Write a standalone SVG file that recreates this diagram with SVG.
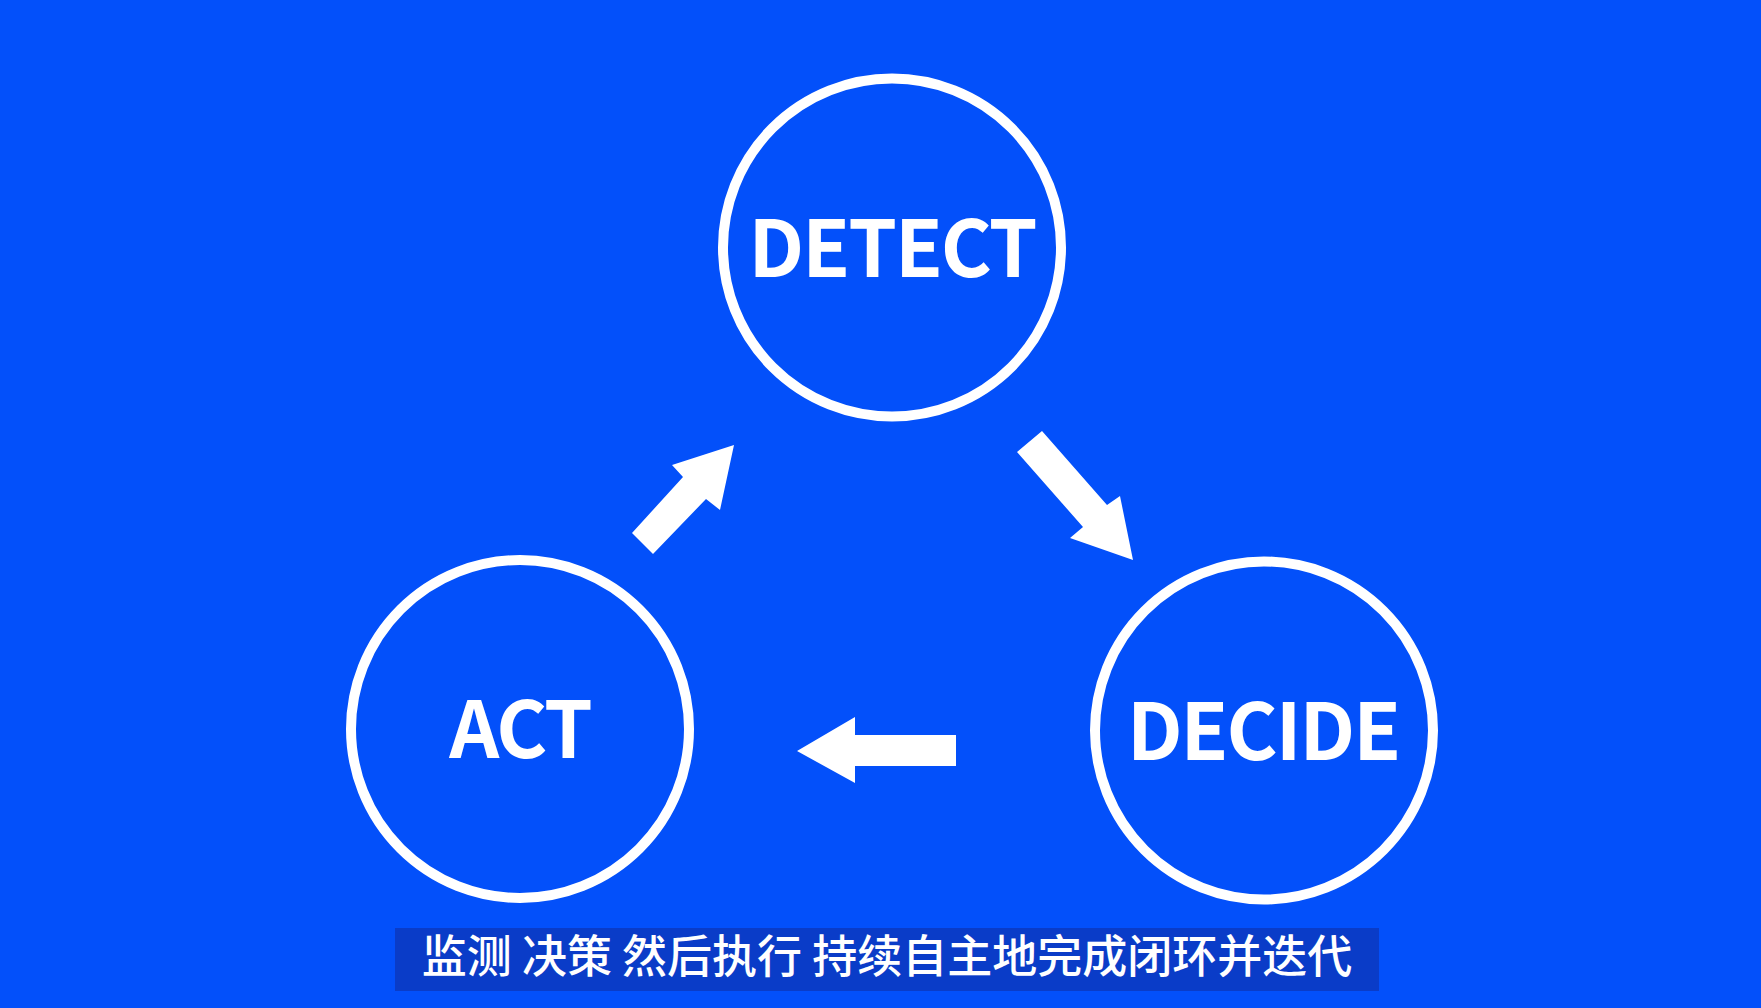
<svg xmlns="http://www.w3.org/2000/svg" width="1761" height="1008" viewBox="0 0 1761 1008">
<style>
.ring{fill:none;stroke:#fff;stroke-width:10}
.lbl{font-family:"Noto Sans CJK SC","Noto Sans",sans-serif;font-weight:700;font-size:78px;letter-spacing:-2px;fill:#fff;text-anchor:middle}
.arrow{fill:#fff}
.sub{font-family:"Noto Sans CJK SC","Noto Sans",sans-serif;font-weight:500;font-size:45px;fill:#fff;text-anchor:middle}
</style>
<rect width="1761" height="1008" fill="#0350FA"/>
<g id="detect">
<circle class="ring" cx="892" cy="247.5" r="169"/>
<text class="lbl" x="892" y="277">DETECT</text>
</g>
<g id="decide">
<circle class="ring" cx="1264" cy="730.5" r="169"/>
<text class="lbl" x="1263" y="760">DECIDE</text>
</g>
<g id="act">
<circle class="ring" cx="520" cy="729" r="169"/>
<text class="lbl" x="520" y="758">ACT</text>
</g>
<g id="connectors">
<polygon class="arrow" points="1017,452 1042,431 1107,505 1120,496 1133,560 1070,538 1083,527"/>
<polygon class="arrow" points="797,751 855,717 855,735 956,735 956,766 855,766 855,783"/>
<polygon class="arrow" points="734,445 672,465 683,477 632,533 653,554 706,499 720,510"/>
</g>
<g id="subtitle">
<rect x="395" y="928" width="984" height="63" fill="#0A3CC8"/>
<text class="sub" x="887" y="973">监测 决策 然后执行 持续自主地完成闭环并迭代</text>
</g>
</svg>
